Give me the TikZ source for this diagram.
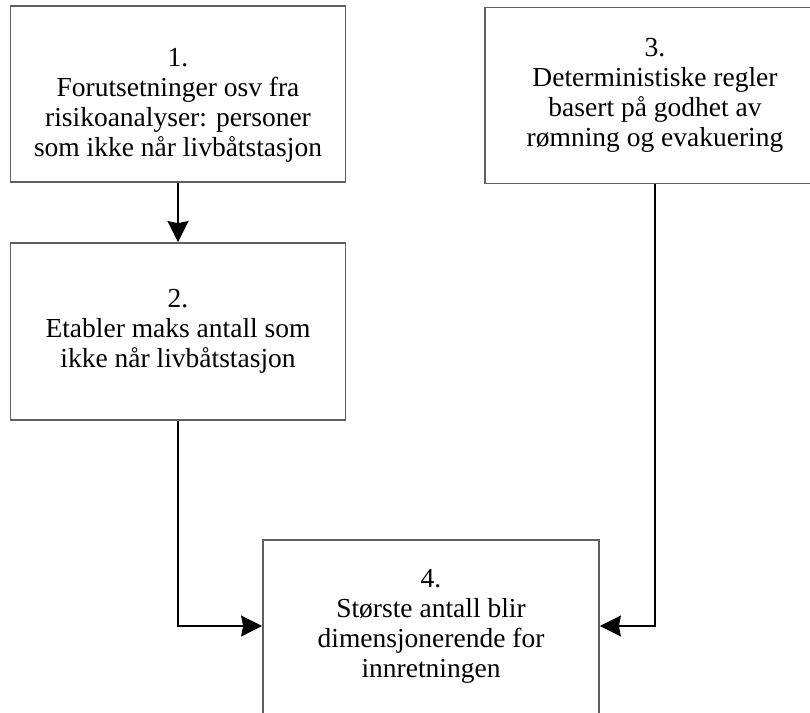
\documentclass[tikz,border=0pt]{standalone}
\usepackage{fontspec}
\setmainfont{Liberation Serif}
\usetikzlibrary{arrows.meta}
\definecolor{boxgray}{RGB}{95,95,95}
\begin{document}
\begin{tikzpicture}[x=1pt,y=-1pt,
  box/.style={draw=boxgray, line width=1.8pt, inner sep=0pt, minimum width=335pt, minimum height=176pt},
  txt/.style={align=center, font=\fontsize{27.5}{30}\selectfont, inner sep=0pt},
  conn/.style={draw=black, line width=1.4pt, -{Stealth[length=21pt,width=21pt,inset=2pt]}}]
\useasboundingbox (0,0) rectangle (810,712);
\clip (0,0) rectangle (810,712);
\fill[white] (0,0) rectangle (810,712);
\node[box] (b1) at (178,94) {};
\node[txt] (t1) at (178,105) {1.\\Forutsetninger osv fra\\risikoanalyser: personer\\som ikke når livbåtstasjon};
\node[box, minimum height=177pt] (b2) at (178,331.5) {};
\node[txt] (t2) at (178,331.5) {2.\\Etabler maks antall som\\ikke når livbåtstasjon};
\node[box, minimum width=380pt] (b3) at (675,95.5) {};
\node[txt] (t3) at (655,95.5) {3.\\Deterministiske regler\\basert på godhet av\\rømning og evakuering};
\node[box, minimum width=336pt, minimum height=220pt] (b4) at (431,650) {};
\node[txt] (t4) at (431,626) {4.\\Største antall blir\\dimensjonerende for\\innretningen};
\draw[conn] (b1.south) -- (b2.north);
\draw[conn] (b2.south) |- (b4.west |- t4);
\draw[conn] (t3 |- b3.south) |- (b4.east |- t4);
\end{tikzpicture}
\end{document}
